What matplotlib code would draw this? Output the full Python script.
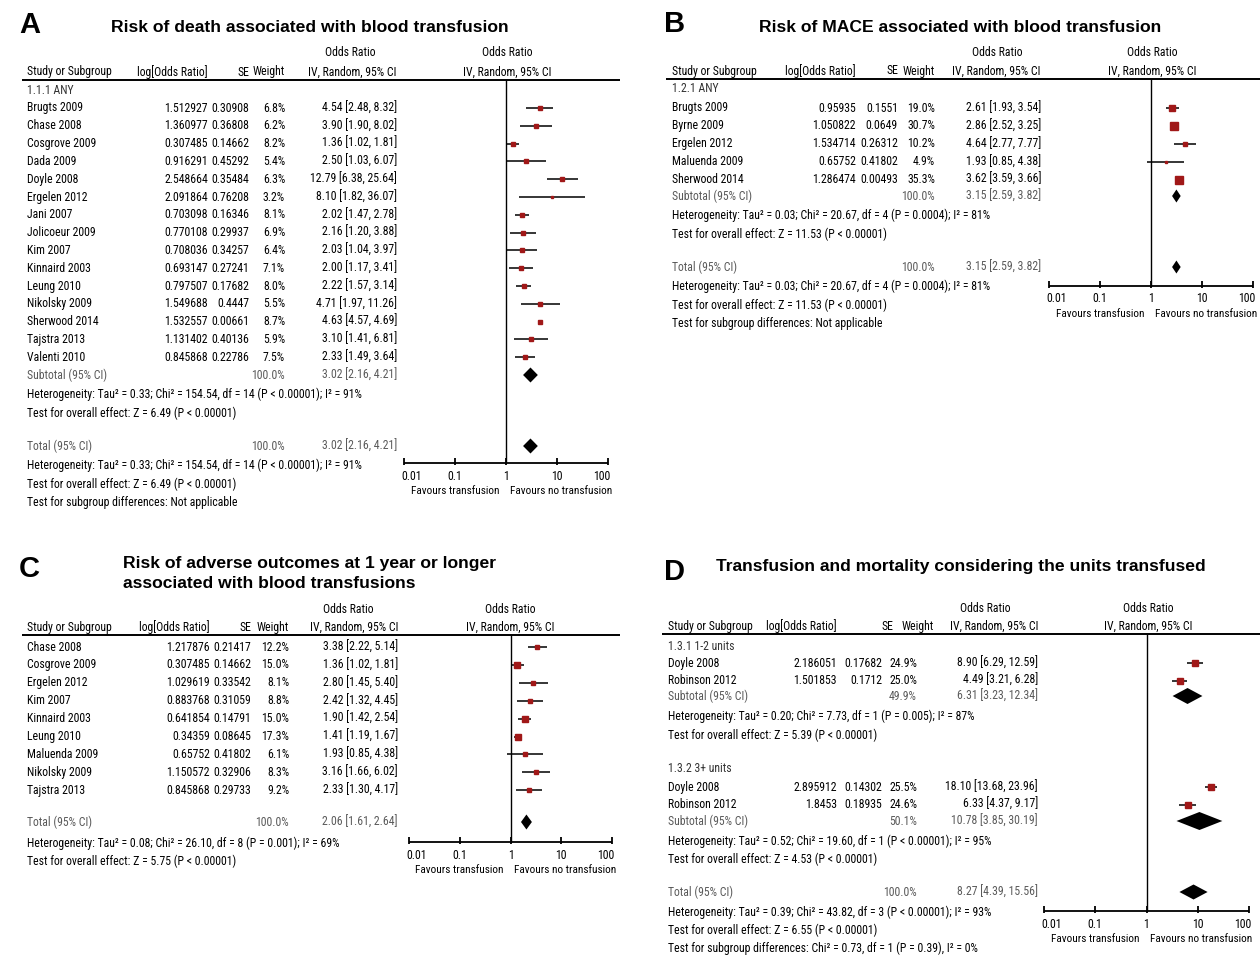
import numpy as np
import matplotlib
matplotlib.use("Agg")
import matplotlib.pyplot as plt

# ---- A: risk of death ----
studies_a = ["Brugts 2009", "Chase 2008", "Cosgrove 2009", "Dada 2009", "Doyle 2008",
             "Ergelen 2012", "Jani 2007", "Jolicoeur 2009", "Kim 2007", "Kinnaird 2003",
             "Leung 2010", "Nikolsky 2009", "Sherwood 2014", "Tajstra 2013", "Valenti 2010"]
logor_a = [1.512927, 1.360977, 0.307485, 0.916291, 2.548664, 2.091864, 0.703098, 0.770108,
           0.708036, 0.693147, 0.797507, 1.549688, 1.532557, 1.131402, 0.845868]
se_a = [0.30908, 0.36808, 0.14662, 0.45292, 0.35484, 0.76208, 0.16346, 0.29937,
        0.34257, 0.27241, 0.17682, 0.4447, 0.00661, 0.40136, 0.22786]
weight_a = [6.8, 6.2, 8.2, 5.4, 6.3, 3.2, 8.1, 6.9, 6.4, 7.1, 8.0, 5.5, 8.7, 5.9, 7.5]
or_a = [4.54, 3.90, 1.36, 2.50, 12.79, 8.10, 2.02, 2.16, 2.03, 2.00, 2.22, 4.71, 4.63, 3.10, 2.33]
lo_a = [2.48, 1.90, 1.02, 1.03, 6.38, 1.82, 1.47, 1.20, 1.04, 1.17, 1.57, 1.97, 4.57, 1.41, 1.49]
hi_a = [8.32, 8.02, 1.81, 6.07, 25.64, 36.07, 2.78, 3.88, 3.97, 3.41, 3.14, 11.26, 4.69, 6.81, 3.64]
pooled_a = [3.02, 2.16, 4.21]
het_a = "Heterogeneity: Tau\u00b2 = 0.33; Chi\u00b2 = 154.54, df = 14 (P < 0.00001); I\u00b2 = 91%"
z_a = "Test for overall effect: Z = 6.49 (P < 0.00001)"

# ---- B: risk of MACE ----
studies_b = ["Brugts 2009", "Byrne 2009", "Ergelen 2012", "Maluenda 2009", "Sherwood 2014"]
logor_b = [0.95935, 1.050822, 1.534714, 0.65752, 1.286474]
se_b = [0.1551, 0.0649, 0.26312, 0.41802, 0.00493]
weight_b = [19.0, 30.7, 10.2, 4.9, 35.3]
or_b = [2.61, 2.86, 4.64, 1.93, 3.62]
lo_b = [1.93, 2.52, 2.77, 0.85, 3.59]
hi_b = [3.54, 3.25, 7.77, 4.38, 3.66]
pooled_b = [3.15, 2.59, 3.82]
het_b = "Heterogeneity: Tau\u00b2 = 0.03; Chi\u00b2 = 20.67, df = 4 (P = 0.0004); I\u00b2 = 81%"
z_b = "Test for overall effect: Z = 11.53 (P < 0.00001)"

# ---- C: adverse outcomes >= 1 year ----
studies_c = ["Chase 2008", "Cosgrove 2009", "Ergelen 2012", "Kim 2007", "Kinnaird 2003",
             "Leung 2010", "Maluenda 2009", "Nikolsky 2009", "Tajstra 2013"]
logor_c = [1.217876, 0.307485, 1.029619, 0.883768, 0.641854, 0.34359, 0.65752, 1.150572, 0.845868]
se_c = [0.21417, 0.14662, 0.33542, 0.31059, 0.14791, 0.08645, 0.41802, 0.32906, 0.29733]
weight_c = [12.2, 15.0, 8.1, 8.8, 15.0, 17.3, 6.1, 8.3, 9.2]
or_c = [3.38, 1.36, 2.80, 2.42, 1.90, 1.41, 1.93, 3.16, 2.33]
lo_c = [2.22, 1.02, 1.45, 1.32, 1.42, 1.19, 0.85, 1.66, 1.30]
hi_c = [5.14, 1.81, 5.40, 4.45, 2.54, 1.67, 4.38, 6.02, 4.17]
pooled_c = [2.06, 1.61, 2.64]
het_c = "Heterogeneity: Tau\u00b2 = 0.08; Chi\u00b2 = 26.10, df = 8 (P = 0.001); I\u00b2 = 69%"
z_c = "Test for overall effect: Z = 5.75 (P < 0.00001)"

# ---- D: units transfused ----
studies_d = ["Doyle 2008", "Robinson 2012"]
logor_d1 = [2.186051, 1.501853]
se_d1 = [0.17682, 0.1712]
weight_d1 = [24.9, 25.0]
or_d1 = [8.90, 4.49]
lo_d1 = [6.29, 3.21]
hi_d1 = [12.59, 6.28]
sub_d1 = [49.9, 6.31, 3.23, 12.34]
logor_d2 = [2.895912, 1.8453]
se_d2 = [0.14302, 0.18935]
weight_d2 = [25.5, 24.6]
or_d2 = [18.10, 6.33]
lo_d2 = [13.68, 4.37]
hi_d2 = [23.96, 9.17]
sub_d2 = [50.1, 10.78, 3.85, 30.19]
pooled_d = [8.27, 4.39, 15.56]
het_d1 = "Heterogeneity: Tau\u00b2 = 0.20; Chi\u00b2 = 7.73, df = 1 (P = 0.005); I\u00b2 = 87%"
z_d1 = "Test for overall effect: Z = 5.39 (P < 0.00001)"
het_d2 = "Heterogeneity: Tau\u00b2 = 0.52; Chi\u00b2 = 19.60, df = 1 (P < 0.00001); I\u00b2 = 95%"
z_d2 = "Test for overall effect: Z = 4.53 (P < 0.00001)"
het_d = "Heterogeneity: Tau\u00b2 = 0.39; Chi\u00b2 = 43.82, df = 3 (P < 0.00001); I\u00b2 = 93%"
z_d = "Test for overall effect: Z = 6.55 (P < 0.00001)"
sub_test_d = "Test for subgroup differences: Chi\u00b2 = 0.73, df = 1 (P = 0.39), I\u00b2 = 0%"

ticks = [0.01, 0.1, 1, 10, 100]
tick_labels = ["0.01", "0.1", "1", "10", "100"]

W, H = 1260, 955
TXT = ['Roboto Condensed', 'Open Sans Condensed', 'Liberation Sans']
BOLD = ['Liberation Sans', 'DejaVu Sans']
FS = 8.5
RED = '#a01818'
GREY = '#5a5a5a'

fig = plt.figure(figsize=(W / 100, H / 100), dpi=100)
bg = fig.add_axes([0, 0, 1, 1])
bg.set_xlim(0, W)
bg.set_ylim(H, 0)
bg.axis('off')


def txt(x, y, s, ha='left', color='black', size=FS):
    bg.text(x, y, s, ha=ha, va='center', color=color, fontsize=size, family=TXT)


def title(letter, lx, ly, lines, tx, ty, ha='center'):
    bg.text(lx, ly, letter, ha='left', va='center', fontsize=21, fontweight='bold', family=BOLD)
    for i, line in enumerate(lines):
        bg.text(tx, ty + i * 20, line, ha=ha, va='center', fontsize=12.6,
                fontweight='bold', family=BOLD)


def header(c, y_or, y_hd, y_line, x0, x1, or2):
    txt(c['name'], y_hd, "Study or Subgroup")
    txt(c['lor'], y_hd, "log[Odds Ratio]", ha='right')
    txt(c.get('se_h', c['se']), y_hd, "SE", ha='right')
    txt(c.get('w_h', c['w']), y_hd, "Weight", ha='right')
    txt(c['ci'], y_hd, "IV, Random, 95% CI", ha='right')
    txt(c['or'], y_or, "Odds Ratio", ha='center')
    txt(or2, y_or, "Odds Ratio", ha='center')
    txt(or2, y_hd, "IV, Random, 95% CI", ha='center')
    bg.hlines(y_line, x0, x1, color='black', lw=1.4)


def forest(x_lo, x_hi, y_top, y_axis):
    bottom = y_axis + 40
    ax = fig.add_axes([x_lo / W, 1 - bottom / H, (x_hi - x_lo) / W, (bottom - y_top) / H])
    ax.set_xscale('log')
    ax.set_xlim(0.01, 100)
    ax.set_ylim(bottom, y_top)
    ax.axis('off')
    ax.patch.set_visible(False)
    ax.vlines(1, y_top, y_axis, color='black', lw=1)
    ax.hlines(y_axis, 0.01, 100, color='black', lw=1.3)
    shift = {0.01: (-3, 'left'), 100: (2, 'right')}
    for t, lab in zip(ticks, tick_labels):
        ax.vlines(t, y_axis - 5, y_axis + 2, color='black', lw=1.3, clip_on=False)
        dx, ha = shift.get(t, (0, 'center'))
        ax.annotate(lab, (t, y_axis + 13), xytext=(dx, 0), textcoords='offset pixels',
                    ha=ha, va='center', fontsize=FS, family=TXT)
    ax.annotate("Favours transfusion", (1, y_axis + 28), xytext=(-7, 0),
                textcoords='offset pixels', ha='right', va='center', fontsize=8.1, family=TXT)
    ax.annotate("Favours no transfusion", (1, y_axis + 28), xytext=(4, 0),
                textcoords='offset pixels', ha='left', va='center', fontsize=8.1, family=TXT)
    return ax


def studies(ax, c, ys, names, lor, se, w, orv, lo, hi):
    for y, n, l, s, wt, o, a, b in zip(ys, names, lor, se, w, orv, lo, hi):
        txt(c['name'], y, n)
        txt(c['lor'], y, str(l), ha='right')
        txt(c['se'], y, str(s), ha='right')
        txt(c['w'], y, f"{wt:.1f}%", ha='right')
        txt(c['ci'], y, f"{o:.2f} [{a:.2f}, {b:.2f}]", ha='right')
        ax.hlines(y, a, b, color='black', lw=1.1)
        ax.plot(o, y, 's', ms=1.3 * np.sqrt(wt) * 0.72, color=RED, mec=RED, zorder=3)


def summary(ax, c, y, label, w, est, lo, hi, half=7.5):
    txt(c['name'], y, label, color=GREY)
    txt(c['w'], y, f"{w:.1f}%", ha='right', color=GREY)
    txt(c['ci'], y, f"{est:.2f} [{lo:.2f}, {hi:.2f}]", ha='right', color=GREY)
    ax.fill([lo, est, hi, est], [y, y - half, y, y + half], color='black', lw=0)


# ---------------- panel A ----------------
ca = dict(name=27, lor=208, se=249, w=285, ci=397, orx=350)
ca['or'] = ca['orx']
title("A", 19, 25, ["Risk of death associated with blood transfusion"], 310, 27)
header(ca, 53, 72, 80, 22, 620, 507)
txt(27, 90, "1.1.1 ANY", color='#333333')
ax_a = forest(404, 608, 80, 463)
ys_a = 108 + 17.8 * np.arange(len(studies_a))
studies(ax_a, ca, ys_a, studies_a, logor_a, se_a, weight_a, or_a, lo_a, hi_a)
summary(ax_a, ca, 375, "Subtotal (95% CI)", 100.0, *pooled_a)
txt(27, 394, het_a)
txt(27, 413, z_a)
summary(ax_a, ca, 446, "Total (95% CI)", 100.0, *pooled_a)
txt(27, 465, het_a)
txt(27, 484, z_a)
txt(27, 502, "Test for subgroup differences: Not applicable")

# ---------------- panel B ----------------
cb = dict(name=672, lor=856, se=898, w=935, ci=1041, orx=997)
cb['or'] = cb['orx']
title("B", 664, 24, ["Risk of MACE associated with blood transfusion"], 960, 27)
header(cb, 53, 71, 79, 666, 1260, 1152)
txt(672, 89, "1.2.1 ANY", color='#333333')
ax_b = forest(1049, 1253, 79, 286)
ys_b = 108 + 17.9 * np.arange(len(studies_b))
studies(ax_b, cb, ys_b, studies_b, logor_b, se_b, weight_b, or_b, lo_b, hi_b)
summary(ax_b, cb, 196, "Subtotal (95% CI)", 100.0, *pooled_b, half=6.5)
txt(672, 215, het_b)
txt(672, 234, z_b)
summary(ax_b, cb, 267, "Total (95% CI)", 100.0, *pooled_b, half=6.5)
txt(672, 286, het_b)
txt(672, 305, z_b)
txt(672, 323, "Test for subgroup differences: Not applicable")

# ---------------- panel C ----------------
cc = dict(name=27, lor=210, se=251, w=289, ci=398, orx=348)
cc['or'] = cc['orx']
title("C", 19, 569, ["Risk of adverse outcomes at 1 year or longer",
                     "associated with blood transfusions"], 123, 563, ha='left')
header(cc, 609, 627, 635, 22, 620, 510)
ax_c = forest(409, 612, 635, 842)
ys_c = 647 + 17.9 * np.arange(len(studies_c))
studies(ax_c, cc, ys_c, studies_c, logor_c, se_c, weight_c, or_c, lo_c, hi_c)
summary(ax_c, cc, 822, "Total (95% CI)", 100.0, *pooled_c)
txt(27, 843, het_c)
txt(27, 861, z_c)

# ---------------- panel D ----------------
cd = dict(name=668, lor=837, se=882, w=917, ci=1038, orx=985, se_h=893, w_h=934)
cd['or'] = cd['orx']
title("D", 664, 572, ["Transfusion and mortality considering the units transfused"],
      716, 566, ha='left')
header(cd, 608, 626, 634, 662, 1260, 1148)
ax_d = forest(1044, 1249, 634, 911)
txt(668, 646, "1.3.1 1-2 units", color='#333333')
studies(ax_d, cd, 663 + 17.5 * np.arange(2), studies_d, logor_d1, se_d1, weight_d1,
        or_d1, lo_d1, hi_d1)
summary(ax_d, cd, 696, "Subtotal (95% CI)", *sub_d1, half=8)
txt(668, 716, het_d1)
txt(668, 735, z_d1)
txt(668, 768, "1.3.2 3+ units", color='#333333')
studies(ax_d, cd, 787 + 17.5 * np.arange(2), studies_d, logor_d2, se_d2, weight_d2,
        or_d2, lo_d2, hi_d2)
summary(ax_d, cd, 821, "Subtotal (95% CI)", *sub_d2, half=9)
txt(668, 841, het_d2)
txt(668, 859, z_d2)
summary(ax_d, cd, 892, "Total (95% CI)", 100.0, *pooled_d)
txt(668, 912, het_d)
txt(668, 930, z_d)
txt(668, 948, sub_test_d)

fig.savefig("out.png", dpi=100)
